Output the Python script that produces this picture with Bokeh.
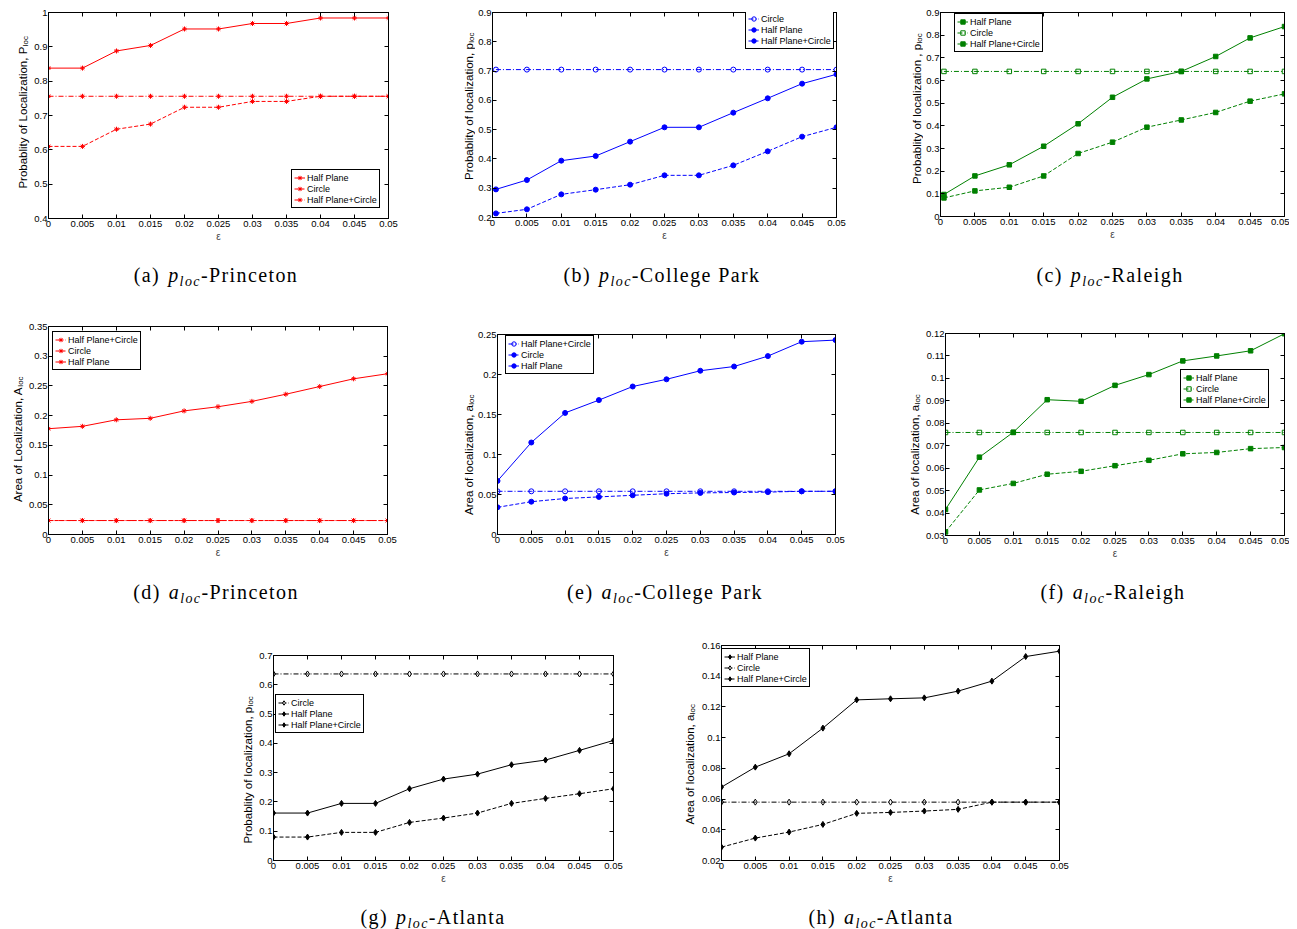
import math
from bokeh.plotting import figure
from bokeh.models import Range1d, FixedTicker, LinearAxis, Legend, LegendItem, Label, Div, Spacer
from bokeh.layouts import row, column
from bokeh.embed import file_html
from bokeh.resources import INLINE

# ---------------- data ----------------
eps = [0, 0.005, 0.01, 0.015, 0.02, 0.025, 0.03, 0.035, 0.04, 0.045, 0.05]
eps_b = [0.0005, 0.005, 0.01, 0.015, 0.02, 0.025, 0.03, 0.035, 0.04, 0.045, 0.05]
x_tick_labels = ["0", "0.005", "0.01", "0.015", "0.02", "0.025", "0.03", "0.035", "0.04", "0.045", "0.05"]

# (a) p_loc Princeton
pr_p_hp = [0.838, 0.838, 0.888, 0.904, 0.952, 0.952, 0.968, 0.968, 0.984, 0.984, 0.984]
pr_p_circle = [0.610, 0.610, 0.660, 0.675, 0.724, 0.724, 0.741, 0.741, 0.756, 0.756, 0.756]
pr_p_hpc = [0.756, 0.756, 0.756, 0.756, 0.756, 0.756, 0.756, 0.756, 0.756, 0.756, 0.756]
pr_p_yticks = ["0.4", "0.5", "0.6", "0.7", "0.8", "0.9", "1"]

# (b) p_loc College Park
cp_p_circle = [0.705, 0.705, 0.705, 0.705, 0.705, 0.705, 0.705, 0.705, 0.705, 0.705, 0.705]
cp_p_hp = [0.296, 0.328, 0.394, 0.410, 0.459, 0.508, 0.508, 0.558, 0.607, 0.657, 0.689]
cp_p_hpc = [0.214, 0.228, 0.279, 0.295, 0.312, 0.344, 0.344, 0.378, 0.426, 0.476, 0.508]
cp_p_yticks = ["0.2", "0.3", "0.4", "0.5", "0.6", "0.7", "0.8", "0.9"]

# (c) p_loc Raleigh
ra_p_hp = [0.097, 0.179, 0.228, 0.310, 0.409, 0.526, 0.607, 0.640, 0.706, 0.788, 0.838]
ra_p_circle = [0.640, 0.640, 0.640, 0.640, 0.640, 0.640, 0.640, 0.640, 0.640, 0.640, 0.640]
ra_p_hpc = [0.082, 0.113, 0.129, 0.179, 0.278, 0.328, 0.394, 0.426, 0.459, 0.509, 0.541]
ra_p_yticks = ["0", "0.1", "0.2", "0.3", "0.4", "0.5", "0.6", "0.7", "0.8", "0.9"]

# (d) a_loc Princeton
pr_a_hpc = [0.0235, 0.0235, 0.0235, 0.0235, 0.0235, 0.0235, 0.0235, 0.0235, 0.0235, 0.0235, 0.0235]
pr_a_circle = [0.0235, 0.0235, 0.0235, 0.0235, 0.0235, 0.0235, 0.0235, 0.0235, 0.0235, 0.0235, 0.0235]
pr_a_hp = [0.178, 0.182, 0.193, 0.1955, 0.208, 0.215, 0.224, 0.236, 0.249, 0.262, 0.2705]
pr_a_yticks = ["0", "0.05", "0.1", "0.15", "0.2", "0.25", "0.3", "0.35"]

# (e) a_loc College Park
cp_a_hpc = [0.054, 0.054, 0.054, 0.054, 0.054, 0.054, 0.054, 0.054, 0.054, 0.054, 0.054]
cp_a_circle = [0.034, 0.041, 0.045, 0.047, 0.049, 0.051, 0.052, 0.0525, 0.053, 0.054, 0.054]
cp_a_hp = [0.067, 0.115, 0.152, 0.168, 0.185, 0.194, 0.2047, 0.210, 0.223, 0.241, 0.243]
cp_a_yticks = ["0", "0.05", "0.1", "0.15", "0.2", "0.25"]

# (f) a_loc Raleigh
ra_a_hp = [0.0416, 0.0649, 0.076, 0.0905, 0.0898, 0.0969, 0.1017, 0.1078, 0.110, 0.1123, 0.1199]
ra_a_circle = [0.0759, 0.0759, 0.0759, 0.0759, 0.0759, 0.0759, 0.0759, 0.0759, 0.0759, 0.0759, 0.0759]
ra_a_hpc = [0.0316, 0.0503, 0.0532, 0.0573, 0.0586, 0.0611, 0.0635, 0.0664, 0.067, 0.0687, 0.0692]
ra_a_yticks = ["0.03", "0.04", "0.05", "0.06", "0.07", "0.08", "0.09", "0.1", "0.11", "0.12"]

# (g) p_loc Atlanta
at_p_circle = [0.637, 0.637, 0.637, 0.637, 0.637, 0.637, 0.637, 0.637, 0.637, 0.637, 0.637]
at_p_hp = [0.162, 0.162, 0.195, 0.195, 0.245, 0.278, 0.295, 0.327, 0.343, 0.376, 0.41]
at_p_hpc = [0.080, 0.080, 0.096, 0.096, 0.13, 0.145, 0.162, 0.195, 0.212, 0.228, 0.245]
at_p_yticks = ["0", "0.1", "0.2", "0.3", "0.4", "0.5", "0.6", "0.7"]

# (h) a_loc Atlanta
at_a_hp = [0.0678, 0.0808, 0.0895, 0.1062, 0.1246, 0.1253, 0.1259, 0.1303, 0.1368, 0.1528, 0.1563]
at_a_circle = [0.058, 0.058, 0.058, 0.058, 0.058, 0.058, 0.058, 0.058, 0.058, 0.058, 0.058]
at_a_hpc = [0.0287, 0.0346, 0.0385, 0.0435, 0.0507, 0.0513, 0.0522, 0.0533, 0.058, 0.058, 0.058]
at_a_yticks = ["0.02", "0.04", "0.06", "0.08", "0.1", "0.12", "0.14", "0.16"]

# ---------------- styling ----------------
SANS = "Liberation Sans"
SERIF = "Liberation Serif"
RED, BLUE, GREEN, BLACK = "#ff0000", "#0000ff", "#008000", "#000000"
DASH = {"solid": "solid", "dashed": "4 2", "dashdot": "5 2 1 2"}
MSIZE = {"asterisk": 5, "circle": 5, "square": 4.5, "diamond": 6}


def style_axis(ax, hidden=False, standoff=2):
    ax.major_tick_in = 4
    ax.major_tick_out = 0
    ax.minor_tick_line_color = None
    ax.axis_line_color = "black"
    ax.major_tick_line_color = "black"
    ax.major_label_text_font = SANS
    ax.major_label_text_color = "black"
    if hidden:
        ax.major_label_text_font_size = "0px"
        ax.major_label_standoff = 0
    else:
        ax.major_label_text_font_size = "9.5px"
        ax.major_label_standoff = standoff


def make_panel(sp):
    W, H, ml, mr, mt, mb = sp["geom"]
    mbl = sp["axis_border"]
    LW = ml - mbl              # width of the strip that carries the y-axis title
    ylo, yhi = float(sp["yticks"][0]), float(sp["yticks"][-1])
    p = figure(width=W - LW, height=H, x_range=Range1d(0, 0.05), y_range=Range1d(ylo, yhi),
               min_border_left=mbl, min_border_right=mr, min_border_top=mt, min_border_bottom=mb,
               toolbar_location=None, tools="", output_backend="svg", title=None)
    p.xgrid.visible = False
    p.ygrid.visible = False
    p.outline_line_color = "black"
    p.outline_line_alpha = 1
    p.outline_line_width = 1
    p.background_fill_color = "white"
    p.border_fill_color = "white"

    xt = [float(s) for s in x_tick_labels]
    yt = [float(s) for s in sp["yticks"]]
    p.xaxis.ticker = FixedTicker(ticks=xt)
    p.xaxis.major_label_overrides = dict(zip(xt, x_tick_labels))
    p.yaxis.ticker = FixedTicker(ticks=yt)
    p.yaxis.major_label_overrides = dict(zip(yt, sp["yticks"]))
    style_axis(p.xaxis[0], standoff=2)
    style_axis(p.yaxis[0], standoff=1)
    p.xaxis.axis_label = "ε"
    p.xaxis.axis_label_text_font = SANS
    p.xaxis.axis_label_text_font_size = "10px"
    p.xaxis.axis_label_text_font_style = "normal"
    p.xaxis.axis_label_standoff = 1

    top = LinearAxis(ticker=FixedTicker(ticks=xt), major_label_overrides={t: "" for t in xt})
    style_axis(top, hidden=True)
    p.add_layout(top, "above")
    right = LinearAxis(ticker=FixedTicker(ticks=yt), major_label_overrides={t: "" for t in yt})
    style_axis(right, hidden=True)
    p.add_layout(right, "right")

    col = sp["color"]
    rends = {}
    for (name, xs, ys, dash, marker, filled) in sp["series"]:
        lr = p.line(xs, ys, line_color=col, line_width=1, line_dash=DASH[dash])
        sr = p.scatter(xs, ys, marker=marker, size=MSIZE[marker], line_color=col, line_width=1,
                       fill_color=col if filled else None)
        rends[name] = [lr, sr]

    items = [LegendItem(label=lab, renderers=rends[lab]) for lab in sp["legend_order"]]
    leg = Legend(items=items, location=sp["legend_loc"], border_line_color="black", border_line_width=1,
                 border_line_alpha=1, background_fill_color="white", background_fill_alpha=1,
                 padding=2, spacing=0, margin=0, glyph_width=11, glyph_height=11, label_height=11,
                 label_width=10, label_standoff=2, label_text_font=SANS, label_text_font_size="9px",
                 label_text_color="black")
    p.add_layout(leg)

    # strip figure holding the rotated y-axis title with its subscript
    lf = figure(width=LW, height=H, x_range=Range1d(0, LW), y_range=Range1d(0, H),
                min_border_left=0, min_border_right=0, min_border_top=0, min_border_bottom=0,
                x_axis_type=None, y_axis_type=None, toolbar_location=None, tools="",
                output_backend="svg", title=None)
    lf.xgrid.visible = False
    lf.ygrid.visible = False
    lf.outline_line_color = None
    lf.background_fill_color = "white"
    lf.border_fill_color = "white"
    dx, yend = sp["ylab_pos"]
    main, sub = sp["ylab"]
    bx = ml + dx
    by = mb + yend
    lf.add_layout(Label(x=bx, y=by, text=main, angle=math.pi / 2,
                        text_align="right", text_baseline="alphabetic", text_font=SANS,
                        text_font_size="11.5px", text_color="black"))
    lf.add_layout(Label(x=bx + 2.5, y=by + 0.5, text=sub,
                        angle=math.pi / 2, text_align="left", text_baseline="alphabetic", text_font=SANS,
                        text_font_size="8px", text_color="black"))

    # caption
    letter, var, city = sp["caption"]
    x0, cx = sp["cap_x"]
    pt, dh = sp["cap_pad"]
    ml_cap = cx - x0 - 160
    html = (f'<div style="font-family:\'{SERIF}\',serif;font-size:20px;line-height:20px;white-space:nowrap;'
            f'text-align:center;width:320px;margin-left:{ml_cap}px;padding-top:{pt}px;letter-spacing:1.4px;color:#000">'
            f'({letter})<i style="margin-left:8px">{var}</i>'
            f'<sub style="font-size:14px;line-height:0;vertical-align:-4px"><i>loc</i></sub>-{city}</div>')
    div = Div(text=html, width=W, height=dh, margin=0)
    return column(row(lf, p), div)


R = "Half Plane+Circle"
specs = [
    dict(geom=(442, 247, 38, 62, 4, 37), axis_border=15, yticks=pr_p_yticks, color=RED,
         series=[("Half Plane", eps, pr_p_hp, "solid", "asterisk", True),
                 ("Circle", eps, pr_p_circle, "dashed", "asterisk", True),
                 (R, eps, pr_p_hpc, "dashdot", "asterisk", True)],
         legend_order=["Half Plane", "Circle", R], legend_loc=(243, 10),
         ylab=("Probablity of Localization, P", "loc"), ylab_pos=(-23.5, 169),
         caption=("a", "p", "Princeton"), cap_x=(8, 216), cap_pad=(10, 40)),
    dict(geom=(440, 247, 39, 54, 4, 38), axis_border=14, yticks=cp_p_yticks, color=BLUE,
         series=[("Circle", eps_b, cp_p_circle, "dashdot", "circle", False),
                 ("Half Plane", eps_b, cp_p_hp, "solid", "circle", True),
                 (R, eps_b, cp_p_hpc, "dashed", "circle", True)],
         legend_order=["Circle", "Half Plane", R], legend_loc=(253, 168),
         ylab=("Probablity of localization, p", "loc"), ylab_pos=(-20.5, 172),
         caption=("b", "p", "College Park"), cap_x=(450, 662), cap_pad=(10, 40)),
    dict(geom=(399, 247, 47, 5, 4, 39), axis_border=14, yticks=ra_p_yticks, color=GREEN,
         series=[("Half Plane", eps_b, ra_p_hp, "solid", "square", True),
                 ("Circle", eps_b, ra_p_circle, "dashdot", "square", False),
                 (R, eps_b, ra_p_hpc, "dashed", "square", True)],
         legend_order=["Half Plane", "Circle", R], legend_loc=(14, 164),
         ylab=("Probablity of localization , p", "loc"), ylab_pos=(-21, 170),
         caption=("c", "p", "Raleigh"), cap_x=(890, 1110), cap_pad=(10, 40)),
    dict(geom=(442, 275, 38, 63, 31, 36), axis_border=20, yticks=pr_a_yticks, color=RED,
         series=[("Half Plane", eps, pr_a_hp, "solid", "asterisk", True),
                 ("Circle", eps, pr_a_circle, "dashed", "asterisk", True),
                 (R, eps, pr_a_hpc, "dashdot", "asterisk", True)],
         legend_order=[R, "Circle", "Half Plane"], legend_loc=(4, 164),
         ylab=("Area of Localization, A", "loc"), ylab_pos=(-28.5, 159),
         caption=("d", "a", "Princeton"), cap_x=(8, 216), cap_pad=(12, 40)),
    dict(geom=(440, 275, 45, 55, 39, 36), axis_border=20, yticks=cp_a_yticks, color=BLUE,
         series=[("Half Plane", eps, cp_a_hp, "solid", "circle", True),
                 ("Circle", eps, cp_a_circle, "dashed", "circle", True),
                 (R, eps, cp_a_hpc, "dashdot", "circle", False)],
         legend_order=[R, "Circle", "Half Plane"], legend_loc=(8, 160),
         ylab=("Area of localization, a", "loc"), ylab_pos=(-27, 142),
         caption=("e", "a", "College Park"), cap_x=(450, 665), cap_pad=(12, 40)),
    dict(geom=(399, 275, 53, 5, 38, 35), axis_border=20, yticks=ra_a_yticks, color=GREEN,
         series=[("Half Plane", eps, ra_a_hp, "solid", "square", True),
                 ("Circle", eps, ra_a_circle, "dashdot", "square", False),
                 (R, eps, ra_a_hpc, "dashed", "square", True)],
         legend_order=["Half Plane", "Circle", R], legend_loc=(235, 127),
         ylab=("Area of localization, a", "loc"), ylab_pos=(-28.5, 143),
         caption=("f", "a", "Raleigh"), cap_x=(890, 1113), cap_pad=(12, 40)),
    dict(geom=(440, 280, 51, 47, 45, 30), axis_border=15, yticks=at_p_yticks, color=BLACK,
         series=[("Circle", eps, at_p_circle, "dashdot", "diamond", False),
                 ("Half Plane", eps, at_p_hp, "solid", "diamond", True),
                 (R, eps, at_p_hpc, "dashed", "diamond", True)],
         legend_order=["Circle", "Half Plane", R], legend_loc=(2, 127),
         ylab=("Probablity of localization, p", "loc"), ylab_pos=(-23.5, 180),
         caption=("g", "p", "Atlanta"), cap_x=(220, 433), cap_pad=(17, 39)),
    dict(geom=(440, 280, 59, 41, 35, 30), axis_border=20, yticks=at_a_yticks, color=BLACK,
         series=[("Half Plane", eps, at_a_hp, "solid", "diamond", True),
                 ("Circle", eps, at_a_circle, "dashdot", "diamond", False),
                 (R, eps, at_a_hpc, "dashed", "diamond", True)],
         legend_order=["Half Plane", "Circle", R], legend_loc=(0, 173),
         ylab=("Area of localization, a", "loc"), ylab_pos=(-29.5, 160),
         caption=("h", "a", "Atlanta"), cap_x=(660, 881), cap_pad=(17, 39)),
]

panels = [make_panel(s) for s in specs]
grid = column(
    row(panels[0], panels[1], panels[2]),
    row(panels[3], panels[4], panels[5]),
    row(Spacer(width=212, height=10), panels[6], panels[7]),
)
layout = column(Spacer(width=10, height=8), row(Spacer(width=8, height=10), grid))

open("out.html", "w").write(file_html(layout, INLINE))
